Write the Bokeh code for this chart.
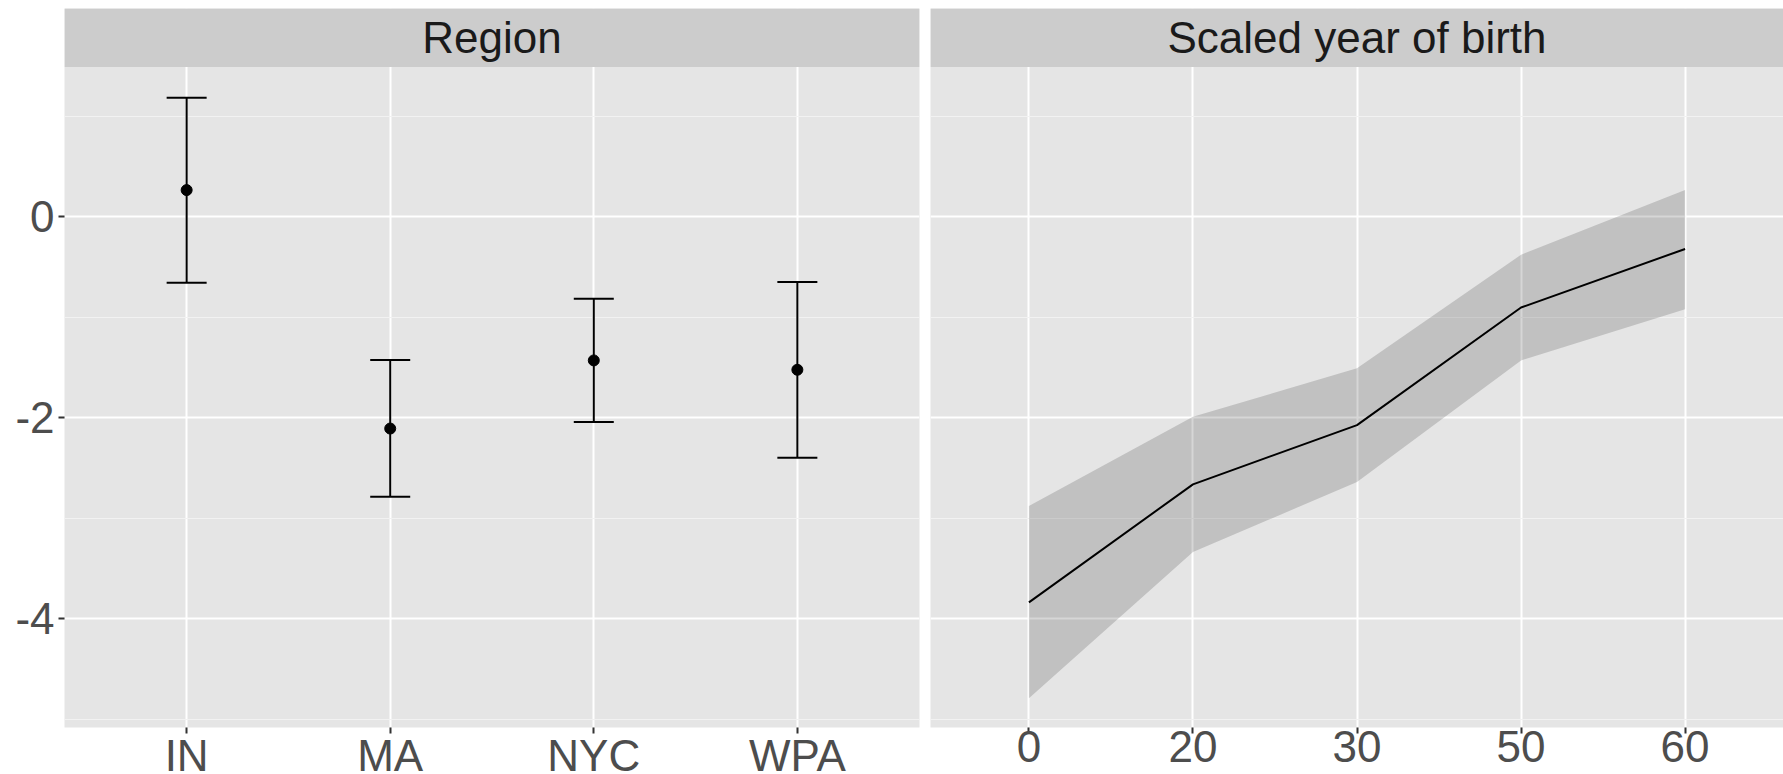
from bokeh.plotting import figure
from bokeh.layouts import row
from bokeh.models import (ColumnDataSource, FactorRange, Range1d, FixedTicker, Grid,
                          Whisker, TeeHead, BoxAnnotation, Label)
from bokeh.embed import file_html
from bokeh.resources import INLINE

# ---- data ----
regions = ["IN", "MA", "NYC", "WPA"]
region_est = [0.265, -2.108, -1.430, -1.523]
region_lo = [-0.658, -2.786, -2.044, -2.398]
region_hi = [1.184, -1.425, -0.816, -0.649]

birth_labels = ["0", "20", "30", "50", "60"]
birth_est = [-3.838, -2.663, -2.074, -0.904, -0.321]
birth_lo = [-4.791, -3.337, -2.640, -1.430, -0.920]
birth_hi = [-2.880, -1.990, -1.509, -0.378, 0.266]

y_major = [-4, -2, 0]
y_major_labels = ["-4", "-2", "0"]
y_minor = [-5, -3, -1, 1]
strip_titles = ["Region", "Scaled year of birth"]

# ---- style ----
FONT = "Liberation Sans"
PANEL_BG = "#E5E5E5"
STRIP_BG = "#CCCCCC"
Y_BOTTOM, PANEL_TOP, Y_TOP = -5.083, 1.489, 2.072
FRAME_H = 719


def base_fig(x_factors, frame_w, left_border, right_border, show_y):
    p = figure(x_range=FactorRange(factors=x_factors, range_padding=0.1,
                                   range_padding_units="absolute"),
               y_range=Range1d(Y_BOTTOM, Y_TOP),
               frame_width=frame_w, frame_height=FRAME_H,
               min_border_left=left_border, min_border_right=right_border,
               min_border_top=8, min_border_bottom=40,
               y_axis_location="left" if show_y else None,
               output_backend="svg", toolbar_location=None)
    p.background_fill_color = PANEL_BG
    p.border_fill_color = "white"
    p.outline_line_color = None

    # remove default y grid(s) and add our own
    p.center = [g for g in p.center if not (isinstance(g, Grid) and g.dimension == 1)]
    yg = Grid(dimension=1, ticker=FixedTicker(ticks=y_major, minor_ticks=y_minor),
              grid_line_color="white", grid_line_width=2,
              minor_grid_line_color="#F2F2F2", minor_grid_line_width=1)
    p.add_layout(yg, "center")
    p.xgrid.grid_line_color = "white"
    p.xgrid.grid_line_width = 2

    xa = p.xaxis[0]
    xa.axis_line_color = None
    xa.major_tick_line_color = "#333333"
    xa.major_tick_line_width = 2
    xa.major_tick_out = 6
    xa.major_tick_in = 0
    xa.minor_tick_line_color = None
    xa.major_label_text_font = FONT
    xa.major_label_text_font_size = "44px"
    xa.major_label_text_color = "#4D4D4D"
    xa.major_label_standoff = -3

    if show_y:
        ya = p.yaxis[0]
        ya.ticker = FixedTicker(ticks=y_major, minor_ticks=y_minor)
        ya.major_label_overrides = dict(zip(y_major, y_major_labels))
        ya.axis_line_color = None
        ya.major_tick_line_color = "#333333"
        ya.major_tick_line_width = 2
        ya.major_tick_out = 6
        ya.major_tick_in = 0
        ya.minor_tick_line_color = None
        ya.major_label_text_font = FONT
        ya.major_label_text_font_size = "44px"
        ya.major_label_text_color = "#4D4D4D"
        ya.major_label_standoff = 4
    return p


def add_strip(p, title, center_x):
    p.add_layout(BoxAnnotation(bottom=PANEL_TOP, fill_color=STRIP_BG, fill_alpha=1.0,
                               line_color=None, level="annotation"))
    p.add_layout(Label(x=center_x, y=(PANEL_TOP + Y_TOP) / 2, text=title,
                       text_font=FONT, text_font_size="44px", text_color="#1A1A1A",
                       text_align="center", text_baseline="middle"))


# ---- left panel: Region ----
p1 = base_fig(regions, 855, 64, 11, True)
src1 = ColumnDataSource(dict(x=regions, est=region_est, lo=region_lo, hi=region_hi))
p1.add_layout(Whisker(source=src1, base="x", upper="hi", lower="lo", dimension="height",
                      line_color="black", line_width=2,
                      upper_head=TeeHead(size=40, line_color="black", line_width=2),
                      lower_head=TeeHead(size=40, line_color="black", line_width=2),
                      level="glyph"))
p1.scatter(x="x", y="est", source=src1, size=11, color="black")
add_strip(p1, strip_titles[0], len(regions) / 2)

# ---- right panel: Scaled year of birth ----
p2 = base_fig(birth_labels, 853, 0, 0, False)
src2 = ColumnDataSource(dict(x=birth_labels, est=birth_est, lo=birth_lo, hi=birth_hi))
p2.varea(x="x", y1="lo", y2="hi", source=src2, fill_color="#333333", fill_alpha=0.2)
p2.line(x="x", y="est", source=src2, line_color="black", line_width=2)
add_strip(p2, strip_titles[1], len(birth_labels) / 2)

layout = row(p1, p2)
open("out.html", "w").write(file_html(layout, INLINE))
